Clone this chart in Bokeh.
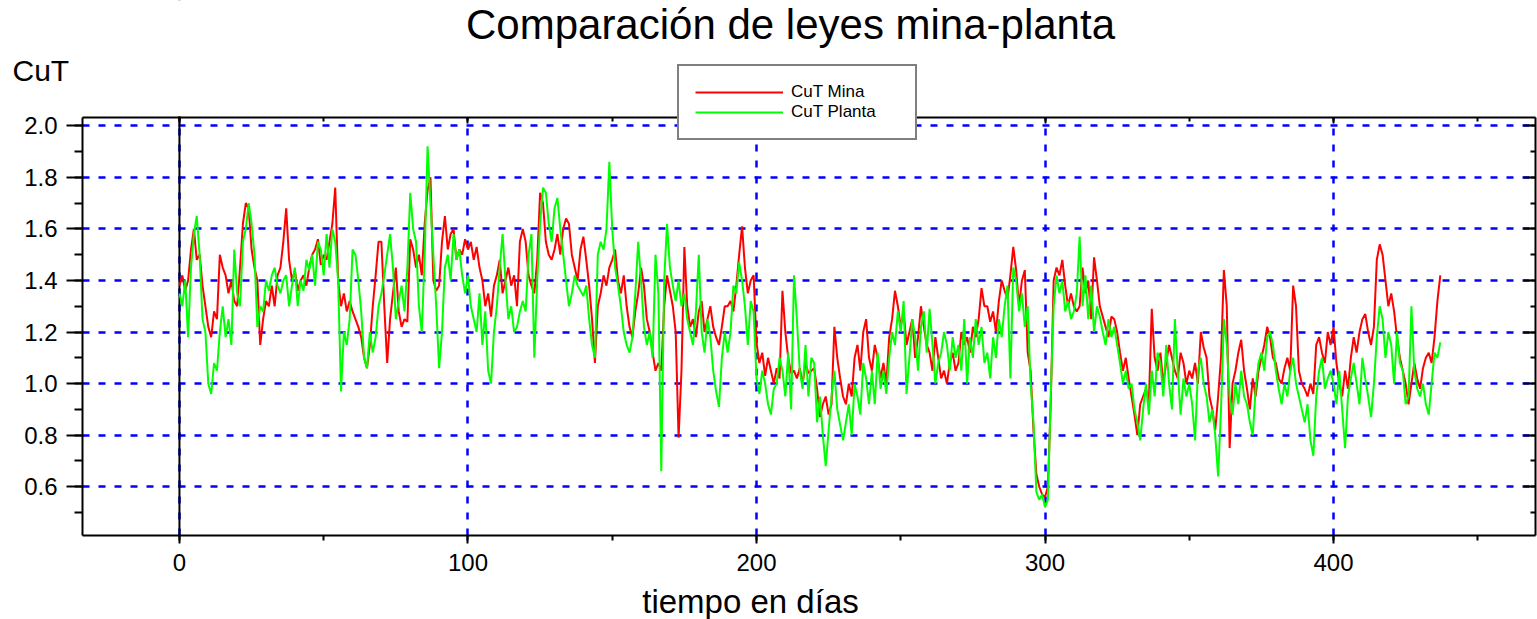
from bokeh.plotting import figure
from bokeh.models import (Range1d, SingleIntervalTicker, NumeralTickFormatter, LinearAxis,
                          Span, Label, Legend, LegendItem, BoxAnnotation)
from bokeh.embed import file_html
from bokeh.resources import INLINE

TITLE = "Comparación de leyes mina-planta"
X_LABEL = "tiempo en días"
Y_LABEL = "CuT"
SERIES_NAMES = ["CuT Mina", "CuT Planta"]

cut_mina = [
    1.38, 1.42, 1.36, 1.40, 1.52, 1.60, 1.48, 1.50, 1.38, 1.30,
    1.22, 1.18, 1.28, 1.25, 1.50, 1.45, 1.42, 1.35, 1.40, 1.32,
    1.30, 1.45, 1.62, 1.70, 1.68, 1.52, 1.45, 1.40, 1.15, 1.25,
    1.32, 1.30, 1.38, 1.30, 1.42, 1.45, 1.55, 1.68, 1.48, 1.40,
    1.44, 1.36, 1.40, 1.42, 1.38, 1.45, 1.50, 1.52, 1.56, 1.46,
    1.50, 1.48, 1.55, 1.62, 1.76, 1.40, 1.30, 1.35, 1.28, 1.32,
    1.28, 1.25, 1.22, 1.18, 1.10, 1.06, 1.15, 1.30, 1.42, 1.55,
    1.55, 1.30, 1.08, 1.25, 1.35, 1.45, 1.28, 1.22, 1.25, 1.24,
    1.56, 1.52, 1.45, 1.50, 1.42, 1.62, 1.75, 1.80, 1.40, 1.36,
    1.38, 1.55, 1.65, 1.52, 1.58, 1.60, 1.48, 1.52, 1.50, 1.56,
    1.52, 1.55, 1.48, 1.53, 1.45, 1.40, 1.30, 1.35, 1.26, 1.38,
    1.42, 1.48, 1.35, 1.40, 1.45, 1.38, 1.42, 1.30, 1.55, 1.60,
    1.55, 1.42, 1.38, 1.35, 1.48, 1.74, 1.70, 1.55, 1.50, 1.48,
    1.52, 1.58, 1.50, 1.60, 1.64, 1.62, 1.50, 1.45, 1.40, 1.52,
    1.57, 1.48, 1.38, 1.25, 1.08, 1.30, 1.35, 1.42, 1.38, 1.45,
    1.48, 1.52, 1.40, 1.35, 1.42, 1.30, 1.22, 1.18, 1.28, 1.35,
    1.45, 1.38, 1.25, 1.20, 1.12, 1.05, 1.08, 1.05, 1.30, 1.42,
    1.36, 1.30, 1.20, 0.79, 1.05, 1.53, 1.30, 1.22, 1.25, 1.18,
    1.28, 1.32, 1.20, 1.25, 1.30, 1.22, 1.18, 1.15, 1.22, 1.30,
    1.30, 1.32, 1.28, 1.38, 1.50, 1.61, 1.45, 1.35, 1.40, 1.42,
    1.16, 1.08, 1.12, 1.03, 1.10, 1.05, 1.00, 1.06, 1.02, 1.36,
    1.20, 1.10, 1.04, 1.05, 1.02, 1.06, 1.00, 1.08, 1.04, 1.05,
    1.06, 0.98, 0.87, 0.92, 0.95, 0.88, 0.92, 1.22, 1.10, 1.02,
    0.95, 0.92, 1.00, 0.95, 1.10, 1.15, 1.05, 1.20, 1.25, 1.10,
    1.05, 1.15, 1.10, 1.02, 1.08, 1.00, 1.18, 1.25, 1.36, 1.30,
    1.22, 1.28, 1.15, 1.20, 1.25, 1.10, 1.18, 1.30, 1.22, 1.15,
    1.12, 1.05, 1.18, 1.10, 1.02, 1.05, 1.00, 1.08, 1.12, 1.05,
    1.08, 1.20, 1.15, 1.18, 1.12, 1.22, 1.18, 1.25, 1.37, 1.30,
    1.30, 1.24, 1.28, 1.20, 1.32, 1.40, 1.36, 1.33, 1.42, 1.53,
    1.44, 1.30, 1.40, 1.44, 1.12, 1.05, 0.82, 0.65, 0.60, 0.57,
    0.56, 0.60, 0.93, 1.40, 1.45, 1.42, 1.48, 1.38, 1.30, 1.35,
    1.30, 1.28, 1.30, 1.45, 1.35, 1.40, 1.25, 1.49, 1.40, 1.30,
    1.26, 1.22, 1.18, 1.26, 1.25, 1.20, 1.12, 1.05, 1.10, 1.02,
    0.95, 0.88, 0.80, 0.92, 0.95, 0.98, 0.93, 1.29, 1.10, 1.05,
    1.12, 1.00, 1.08, 1.15, 1.10, 1.05, 1.02, 1.12, 1.08, 1.00,
    1.05, 1.02, 1.08, 1.00, 1.20, 1.14, 1.10, 0.95, 0.90, 0.82,
    0.95, 1.10, 1.44, 1.30, 0.75, 1.00, 1.05, 1.12, 1.17, 1.05,
    0.98, 0.90, 1.02, 0.95, 1.05, 1.10, 1.15, 1.22, 1.18, 1.10,
    1.08, 1.02, 1.00, 1.06, 1.10, 1.05, 1.38, 1.30, 1.05, 1.00,
    0.98, 0.95, 1.00, 0.96, 1.15, 1.18, 1.12, 1.08, 1.20, 1.15,
    1.22, 1.08, 1.00, 0.95, 1.05, 0.98, 1.10, 1.18, 1.12, 1.20,
    1.25, 1.27, 1.20, 1.15, 1.22, 1.48, 1.54, 1.50, 1.40, 1.30,
    1.35, 1.28, 1.18, 1.10, 1.05, 1.00, 0.92, 1.00, 1.08, 1.02,
    0.98, 1.06, 1.10, 1.12, 1.08, 1.18, 1.32, 1.42,
]

cut_planta = [
    1.35, 1.30, 1.40, 1.18, 1.45, 1.58, 1.65, 1.50, 1.25, 1.20,
    1.00, 0.96, 1.08, 1.05, 1.20, 1.30, 1.18, 1.25, 1.15, 1.52,
    1.35, 1.30, 1.55, 1.60, 1.70, 1.62, 1.50, 1.22, 1.30, 1.28,
    1.40, 1.36, 1.42, 1.45, 1.38, 1.35, 1.40, 1.42, 1.30, 1.38,
    1.45, 1.30, 1.40, 1.36, 1.48, 1.44, 1.50, 1.38, 1.55, 1.52,
    1.42, 1.58, 1.45, 1.60, 1.55, 1.40, 0.97, 1.20, 1.15, 1.25,
    1.52, 1.50, 1.40, 1.28, 1.10, 1.06, 1.20, 1.12, 1.18, 1.30,
    1.35, 1.42, 1.50, 1.58, 1.45, 1.25, 1.32, 1.38, 1.28, 1.45,
    1.74, 1.60, 1.55, 1.30, 1.20, 1.50, 1.92, 1.70, 1.50, 1.30,
    1.06, 1.20, 1.45, 1.50, 1.40, 1.58, 1.48, 1.52, 1.42, 1.35,
    1.42, 1.30, 1.25, 1.20, 1.35, 1.15, 1.28, 1.05, 1.00, 1.20,
    1.30, 1.45, 1.58, 1.40, 1.25, 1.30, 1.20, 1.22, 1.28, 1.32,
    1.28, 1.50, 1.58, 1.10, 1.40, 1.62, 1.76, 1.74, 1.62, 1.55,
    1.68, 1.72, 1.60, 1.50, 1.40, 1.30, 1.35, 1.42, 1.38, 1.36,
    1.34, 1.38, 1.25, 1.15, 1.10, 1.50, 1.55, 1.52, 1.60, 1.86,
    1.60, 1.45, 1.38, 1.30, 1.20, 1.15, 1.12, 1.18, 1.35, 1.55,
    1.40, 1.22, 1.15, 1.20, 1.10, 1.50, 1.35, 0.66, 1.40, 1.62,
    1.45, 1.38, 1.32, 1.40, 1.30, 1.35, 1.25, 1.20, 1.15, 1.28,
    1.50, 1.20, 1.12, 1.25, 1.18, 1.05, 0.97, 0.91, 1.10, 1.20,
    1.12, 1.20, 1.38, 1.35, 1.47, 1.40, 1.30, 1.15, 1.32, 1.28,
    1.02, 0.96, 1.05, 1.00, 0.92, 0.88, 0.98, 1.00, 1.10, 1.05,
    0.95, 1.12, 0.90, 1.42, 1.25, 1.05, 0.98, 1.15, 0.95, 1.10,
    1.08, 0.85, 0.95, 0.80, 0.68, 0.82, 0.95, 1.05, 0.90, 0.84,
    0.78, 0.85, 0.92, 0.80, 1.00, 0.95, 0.88, 1.08, 1.02, 0.92,
    1.05, 0.92, 1.12, 0.98, 1.05, 0.96, 1.10, 1.20, 1.15, 1.28,
    1.20, 1.32, 0.96, 1.10, 1.25, 1.18, 1.05, 1.22, 1.28, 1.12,
    1.29, 1.15, 1.00, 1.08, 1.12, 1.20, 1.15, 1.05, 1.18, 1.10,
    1.15, 1.05, 1.25, 1.00, 1.18, 1.10, 1.25, 1.15, 1.22, 1.08,
    1.12, 1.02, 1.18, 1.10, 1.25, 1.18, 1.30, 1.38, 1.02, 1.45,
    1.40, 1.28, 1.35, 1.22, 1.30, 1.00, 0.85, 0.58, 0.55, 0.57,
    0.52, 0.55, 0.96, 1.30, 1.42, 1.35, 1.40, 1.28, 1.32, 1.25,
    1.28, 1.35, 1.57, 1.30, 1.42, 1.25, 1.38, 1.20, 1.30, 1.26,
    1.20, 1.15, 1.25, 1.18, 1.22, 1.15, 1.08, 1.00, 1.05, 0.98,
    1.00, 0.90, 0.85, 0.78, 0.90, 1.00, 0.88, 1.05, 0.95, 1.12,
    1.08, 0.95, 1.15, 1.00, 0.90, 1.25, 1.05, 0.88, 1.02, 0.95,
    1.00, 0.92, 0.78, 1.05, 1.10, 1.00, 0.95, 0.85, 0.90, 0.80,
    0.64, 0.90, 1.25, 1.15, 0.95, 0.88, 1.00, 0.92, 1.05, 0.95,
    0.92, 0.85, 0.80, 0.98, 1.08, 1.12, 1.05, 1.18, 1.20, 1.15,
    1.05, 0.98, 0.92, 1.00, 0.95, 1.05, 1.10, 1.00, 0.95, 0.90,
    0.85, 0.92, 0.78, 0.72, 0.95, 1.05, 1.10, 0.98, 1.02, 1.05,
    1.00, 0.92, 1.05, 0.90, 0.75, 0.95, 1.02, 1.08, 1.00, 0.92,
    1.10, 1.02, 0.95, 0.87, 1.00, 1.18, 1.30, 1.25, 1.10, 1.20,
    1.15, 1.00, 1.20, 1.08, 1.05, 0.92, 0.95, 1.30, 1.05, 0.98,
    0.95, 1.00, 0.92, 0.88, 1.00, 1.12, 1.10, 1.16,
]

days_mina = list(range(len(cut_mina)))
days_planta = list(range(len(cut_planta)))

# axes box limits (data units)
X_MIN, X_MAX = -33.6, 470.0
Y_MIN, Y_MAX = 0.411, 2.032

FONT = "Liberation Sans"
W, H = 1537, 619
BOX_L, BOX_R, BOX_T, BOX_B = 82, 1535, 117, 535   # pixel edges of the axes box

kx = (X_MAX - X_MIN) / (BOX_R - BOX_L)
ky = (Y_MAX - Y_MIN) / (BOX_B - BOX_T)
x_range = Range1d(X_MIN - BOX_L * kx, X_MAX + (W - BOX_R) * kx)
y_range = Range1d(Y_MIN - (H - BOX_B) * ky, Y_MAX + BOX_T * ky)

p = figure(width=W, height=H, output_backend="svg", toolbar_location=None,
           x_range=x_range, y_range=y_range,
           min_border_left=0, min_border_right=0, min_border_top=0, min_border_bottom=0,
           background_fill_color="white", border_fill_color="white",
           outline_line_color=None)

xt = SingleIntervalTicker(interval=100, num_minor_ticks=2)
yt = SingleIntervalTicker(interval=0.2, num_minor_ticks=2)

xa = p.xaxis[0]
xa.ticker = xt
xa.fixed_location = Y_MIN
xa.bounds = (X_MIN, X_MAX)
xa.major_label_text_font = FONT
xa.major_label_text_font_size = "24px"
xa.major_label_text_color = "black"
xa.major_label_standoff = 10
xa.major_tick_out = 8
xa.major_tick_in = 0
xa.minor_tick_out = 5
xa.minor_tick_in = 0
xa.axis_line_width = 2
xa.major_tick_line_width = 2
xa.minor_tick_line_width = 2

ya = p.yaxis[0]
ya.ticker = yt
ya.fixed_location = X_MIN
ya.bounds = (Y_MIN, Y_MAX)
ya.formatter = NumeralTickFormatter(format="0.0")
ya.major_label_text_font = FONT
ya.major_label_text_font_size = "24px"
ya.major_label_text_color = "black"
ya.major_label_standoff = 9
ya.major_tick_out = 16
ya.major_tick_in = 0
ya.minor_tick_out = 8
ya.minor_tick_in = 0
ya.axis_line_width = 2
ya.major_tick_line_width = 2
ya.minor_tick_line_width = 2

right_axis = LinearAxis(ticker=yt, fixed_location=X_MAX, bounds=(Y_MIN, Y_MAX),
                        major_tick_in=12, major_tick_out=0, minor_tick_in=5, minor_tick_out=0,
                        major_label_text_color=None, major_label_standoff=0,
                        axis_line_width=2, major_tick_line_width=2, minor_tick_line_width=2)
p.add_layout(right_axis, "right")
top_axis = LinearAxis(ticker=xt, fixed_location=Y_MAX, bounds=(X_MIN, X_MAX),
                      major_tick_in=6, major_tick_out=0, minor_tick_in=4, minor_tick_out=0,
                      major_label_text_color=None, major_label_standoff=0,
                      axis_line_width=2, major_tick_line_width=2, minor_tick_line_width=2)
p.add_layout(top_axis, "above")

for g, t, cb in ((p.xgrid[0], xt, (Y_MIN, Y_MAX)), (p.ygrid[0], yt, (X_MIN, X_MAX))):
    g.ticker = t
    g.grid_line_color = "#0000FF"
    g.grid_line_width = 2.5
    g.grid_line_dash = "7 9"
    try:
        g.cross_bounds = cb
    except Exception:
        pass

# black line at x = 0
p.add_layout(Span(location=0, dimension="height", line_color="black", line_width=2,
                  level="underlay"))

# white masks outside the axes box (keep grid lines inside the box)
for kw in (dict(bottom=Y_MAX + 1.2 * ky), dict(top=Y_MIN - 1.2 * ky),
           dict(right=X_MIN - 1.2 * kx)):
    p.add_layout(BoxAnnotation(fill_color="white", fill_alpha=1, line_color=None,
                               level="underlay", **kw))

r_mina = p.line(days_mina, cut_mina, line_color="#FF0000", line_width=2)
r_planta = p.line(days_planta, cut_planta, line_color="#00FF00", line_width=2)

legend = Legend(items=[LegendItem(label=SERIES_NAMES[0], renderers=[r_mina]),
                       LegendItem(label=SERIES_NAMES[1], renderers=[r_planta])],
                location=(677, H - 68 - 72), orientation="vertical",
                border_line_color="black", border_line_width=2,
                background_fill_color="white", background_fill_alpha=1,
                padding=16, margin=0, spacing=0,
                glyph_width=88, glyph_height=20, label_height=20, label_width=108,
                label_standoff=8, label_text_font=FONT, label_text_font_size="17px",
                label_text_color="black")
p.add_layout(legend)

p.add_layout(Label(x=12, y=H - 82 + 12, x_units="screen", y_units="screen", text=Y_LABEL,
                   text_font=FONT, text_font_size="30px", text_baseline="alphabetic",
                   text_color="black"))
p.add_layout(Label(x=790, y=H - 38 + 14, x_units="screen", y_units="screen", text=TITLE,
                   text_font=FONT, text_font_size="42px", text_baseline="alphabetic",
                   text_align="center", text_color="black"))
p.add_layout(Label(x=750, y=H - 610 + 9, x_units="screen", y_units="screen", text=X_LABEL,
                   text_font=FONT, text_font_size="33px", text_baseline="alphabetic",
                   text_align="center", text_color="black"))

open("out.html", "w").write(file_html(p, INLINE))
